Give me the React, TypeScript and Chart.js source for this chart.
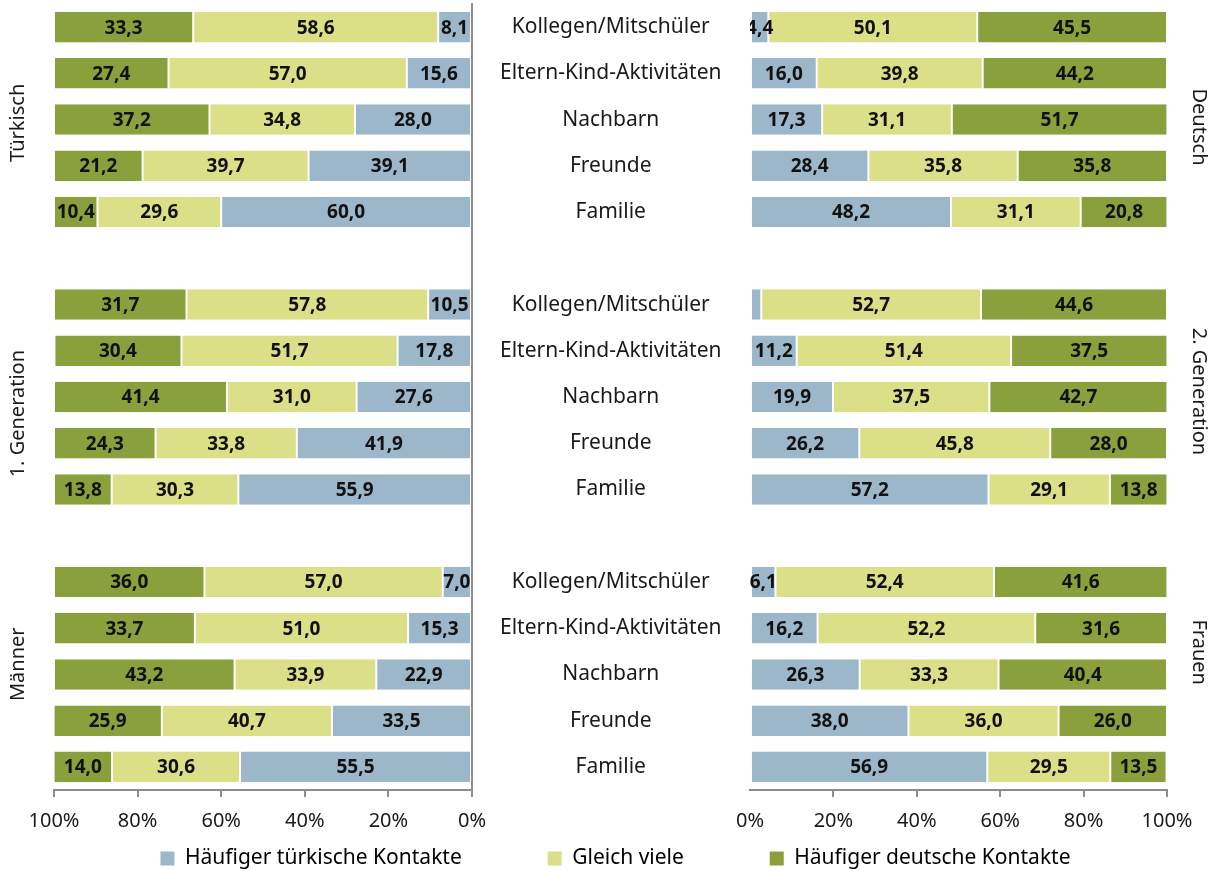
import React, { useEffect, useRef } from 'react';
import { Chart, registerables } from 'chart.js';

Chart.register(...registerables);

const categories = ['Kollegen/Mitschüler', 'Eltern-Kind-Aktivitäten', 'Nachbarn', 'Freunde', 'Familie'];
const seriesNames = ['Häufiger türkische Kontakte', 'Gleich viele', 'Häufiger deutsche Kontakte'];
const seriesColors = ['#9BB7C9', '#DBDF87', '#8AA03C'];
const xTickValues = [0, 20, 40, 60, 80, 100];
const leftTitles = ['Türkisch', '1. Generation', 'Männer'];
const rightTitles = ['Deutsch', '2. Generation', 'Frauen'];

// left side (Türkisch / 1. Generation / Männer)
const tuerkischHT = [8.1, 15.6, 28.0, 39.1, 60.0];
const tuerkischGV = [58.6, 57.0, 34.8, 39.7, 29.6];
const tuerkischHD = [33.3, 27.4, 37.2, 21.2, 10.4];
const gen1HT = [10.5, 17.8, 27.6, 41.9, 55.9];
const gen1GV = [57.8, 51.7, 31.0, 33.8, 30.3];
const gen1HD = [31.7, 30.4, 41.4, 24.3, 13.8];
const maennerHT = [7.0, 15.3, 22.9, 33.5, 55.5];
const maennerGV = [57.0, 51.0, 33.9, 40.7, 30.6];
const maennerHD = [36.0, 33.7, 43.2, 25.9, 14.0];

// right side (Deutsch / 2. Generation / Frauen)
const deutschHT = [4.4, 16.0, 17.3, 28.4, 48.2];
const deutschGV = [50.1, 39.8, 31.1, 35.8, 31.1];
const deutschHD = [45.5, 44.2, 51.7, 35.8, 20.8];
const gen2HT = [2.7, 11.2, 19.9, 26.2, 57.2];
const gen2GV = [52.7, 51.4, 37.5, 45.8, 29.1];
const gen2HD = [44.6, 37.5, 42.7, 28.0, 13.8];
const frauenHT = [6.1, 16.2, 26.3, 38.0, 56.9];
const frauenGV = [52.4, 52.2, 33.3, 36.0, 29.5];
const frauenHD = [41.6, 31.6, 40.4, 26.0, 13.5];

const W = 1213;
const H = 871;
const FONT = 'Noto Sans';
const TEXT = '#1a1a1a';
const AXIS = '#8c8c8c';
const CAT_SIZE = 21;

const rowLabels = [...categories, '', ...categories, '', ...categories];
const joinGroups = (a: number[], b: number[], c: number[]) => [...a, null, ...b, null, ...c];

const valueLabelPlugin = {
  id: 'valueLabels',
  afterDatasetsDraw(chart: any) {
    const { ctx, chartArea } = chart;
    ctx.save();
    ctx.beginPath();
    ctx.rect(chartArea.left, chartArea.top, chartArea.right - chartArea.left, chartArea.bottom - chartArea.top);
    ctx.clip();
    ctx.font = `bold 19px "${FONT}"`;
    ctx.fillStyle = '#111';
    ctx.textAlign = 'center';
    ctx.textBaseline = 'middle';
    chart.data.datasets.forEach((ds: any, di: number) => {
      const meta = chart.getDatasetMeta(di);
      meta.data.forEach((el: any, i: number) => {
        const v = ds.data[i];
        if (v == null || v < 3) return;
        const p = el.getProps(['x', 'y', 'base'], true);
        ctx.fillText(v.toFixed(1).replace('.', ','), (p.x + p.base) / 2, p.y + 1);
      });
    });
    ctx.restore();
  },
};

const makeSideTitles = (titles: string[], rows: number[], x: number, angle: number) => ({
  id: 'sideTitles',
  afterDraw(chart: any) {
    const { ctx } = chart;
    const yScale = chart.scales.y;
    ctx.save();
    ctx.font = `20px "${FONT}"`;
    ctx.fillStyle = TEXT;
    ctx.textAlign = 'center';
    ctx.textBaseline = 'middle';
    titles.forEach((t, i) => {
      const y = yScale.getPixelForValue(rows[i]);
      ctx.save();
      ctx.translate(x, y);
      ctx.rotate(angle);
      ctx.fillText(t, 0, 0);
      ctx.restore();
    });
    ctx.restore();
  },
});

const makeDatasets = (ht: any[], gv: any[], hd: any[]) =>
  [ht, gv, hd].map((d, i) => ({
    label: seriesNames[i],
    data: d,
    backgroundColor: seriesColors[i],
    borderColor: 'rgba(255,255,255,0.7)',
    borderWidth: { left: 1, right: 1, top: 0, bottom: 0 },
    borderSkipped: false,
    xAxisID: 'x',
    yAxisID: 'y',
    barPercentage: 0.66,
    categoryPercentage: 1,
  }));

export default function App() {
  const leftRef = useRef<HTMLCanvasElement>(null);
  const rightRef = useRef<HTMLCanvasElement>(null);

  useEffect(() => {
    document.body.style.margin = '0';
    document.body.style.overflow = 'hidden';
    Chart.defaults.font.family = FONT;
    Chart.defaults.color = TEXT;

    const mctx = document.createElement('canvas').getContext('2d')!;
    mctx.font = `${CAT_SIZE}px "${FONT}"`;
    const widest = Math.max(...categories.map((c) => mctx.measureText(c).width));
    const centerPad = Math.max(0, Math.round(611 - 472 - widest / 2));
    mctx.font = `21px "${FONT}"`;
    const spaceW = mctx.measureText(' ').width;
    const gapSpaces = ' '.repeat(Math.max(0, Math.round(80 / spaceW)));

    const xTicks = {
      font: { size: 20 },
      color: TEXT,
      padding: 12,
      autoSkip: false,
      callback: (v: any) => v + '%',
    };

    const left = new Chart(leftRef.current!, {
      type: 'bar',
      data: {
        labels: rowLabels,
        datasets: makeDatasets(
          joinGroups(tuerkischHT, gen1HT, maennerHT),
          joinGroups(tuerkischGV, gen1GV, maennerGV),
          joinGroups(tuerkischHD, gen1HD, maennerHD)
        ),
      },
      options: {
        indexAxis: 'y',
        responsive: false,
        animation: false,
        layout: { padding: { top: 4, left: 18, right: 0, bottom: 0 } },
        plugins: {
          tooltip: { enabled: false },
          legend: {
            position: 'bottom',
            maxHeight: 27,
            labels: {
              boxWidth: 14,
              boxHeight: 14,
              padding: 4,
              color: TEXT,
              font: { size: 21 },
              generateLabels: (chart: any) =>
                chart.data.datasets.map((ds: any, i: number) => ({
                  text: ds.label + (i < 2 ? gapSpaces : ''),
                  fillStyle: ds.backgroundColor,
                  strokeStyle: ds.backgroundColor,
                  lineWidth: 0,
                  hidden: false,
                  datasetIndex: i,
                })),
            },
          },
        },
        scales: {
          x: {
            type: 'linear',
            stacked: true,
            reverse: true,
            min: 0,
            max: 100,
            afterBuildTicks: (s: any) => { s.ticks = xTickValues.map((v) => ({ value: v })); },
            afterFit: (s: any) => { s.height = 54; },
            grid: { drawOnChartArea: false, drawTicks: true, tickLength: 7, color: AXIS, lineWidth: 2 },
            border: { display: true, color: AXIS, width: 2 },
            ticks: xTicks,
          },
          y: {
            type: 'category',
            position: 'right',
            stacked: true,
            offset: true,
            afterFit: (s: any) => { s.width = W - 472; },
            grid: { display: false, drawTicks: true, tickLength: centerPad },
            border: { display: true, color: AXIS, width: 2 },
            ticks: {
              crossAlign: 'center',
              padding: 0,
              font: { size: CAT_SIZE, lineHeight: 0.3 },
              color: TEXT,
              autoSkip: false,
            },
          },
          yL: {
            type: 'category',
            axis: 'y',
            position: 'left',
            display: true,
            afterFit: (s: any) => { s.width = 54 - 18; },
            grid: { display: false, drawTicks: false },
            border: { display: false },
            ticks: { display: false },
          },
        },
      } as any,
      plugins: [valueLabelPlugin, makeSideTitles(leftTitles, [2.07, 8.36, 13.78], 18, -Math.PI / 2)],
    });

    const bottomH = H - left.chartArea.bottom;
    const topPad = left.chartArea.top;

    const right = new Chart(rightRef.current!, {
      type: 'bar',
      data: {
        labels: rowLabels,
        datasets: makeDatasets(
          joinGroups(deutschHT, gen2HT, frauenHT),
          joinGroups(deutschGV, gen2GV, frauenGV),
          joinGroups(deutschHD, gen2HD, frauenHD)
        ),
      },
      options: {
        indexAxis: 'y',
        responsive: false,
        animation: false,
        layout: { padding: { top: topPad, left: 0, right: W - 1167, bottom: 0 } },
        plugins: { tooltip: { enabled: false }, legend: { display: false } },
        scales: {
          x: {
            type: 'linear',
            stacked: true,
            min: 0,
            max: 100,
            afterBuildTicks: (s: any) => { s.ticks = xTickValues.map((v) => ({ value: v })); },
            afterFit: (s: any) => { s.height = bottomH; },
            grid: {
              drawOnChartArea: false,
              drawTicks: true,
              tickLength: 7,
              lineWidth: 2,
              color: (c: any) => (c.tick && c.tick.value === 0 ? 'rgba(0,0,0,0)' : AXIS),
            },
            border: { display: true, color: AXIS, width: 2 },
            ticks: xTicks,
          },
          y: {
            type: 'category',
            position: 'left',
            stacked: true,
            offset: true,
            afterFit: (s: any) => { s.width = 750; },
            grid: { display: false, drawTicks: false },
            border: { display: false },
            ticks: { display: false },
          },
        },
      } as any,
      plugins: [valueLabelPlugin, makeSideTitles(rightTitles, [2.16, 7.88, 13.52], 1199, Math.PI / 2)],
    });

    return () => {
      left.destroy();
      right.destroy();
    };
  }, []);

  return (
    <div style={{ position: 'relative', width: W, height: H, overflow: 'hidden', background: '#fff' }}>
      <canvas ref={leftRef} width={W} height={H} style={{ position: 'absolute', left: 0, top: 0, width: W, height: H }} />
      <canvas ref={rightRef} width={W} height={H} style={{ position: 'absolute', left: 0, top: 0, width: W, height: H }} />
    </div>
  );
}
